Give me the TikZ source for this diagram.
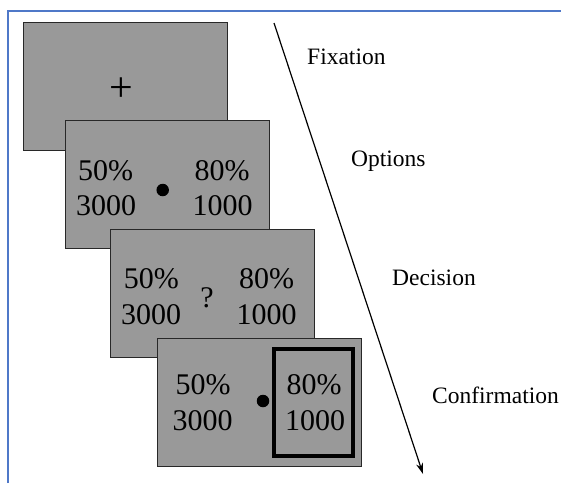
\documentclass[tikz,border=0pt]{standalone}
\usepackage{fontspec}
\setmainfont{Liberation Serif}
\usetikzlibrary{arrows.meta}
\definecolor{edgeblue}{RGB}{79,120,200}
\definecolor{screengray}{RGB}{153,153,153}
\definecolor{screenedge}{RGB}{40,40,40}
\tikzset{
  screen/.style={draw=screenedge, fill=screengray, line width=1.3pt, minimum width=204pt, minimum height=128pt, anchor=north west, inner sep=0pt},
  num/.style={font=\fontsize{30}{36}\selectfont, anchor=base, inner sep=0pt},
  stagelabel/.style={font=\fontsize{23.5}{28}\selectfont, anchor=base west, inner sep=0pt},
  fixdot/.style={circle, fill=black, minimum size=12.5pt, inner sep=0pt},
  choicebox/.style={draw=black, line width=4pt, minimum width=79pt, minimum height=107pt, inner sep=0pt}
}
\begin{document}
\begin{tikzpicture}[x=1pt,y=-1pt]
\useasboundingbox (0,0) rectangle (561,483);
% frame border
\draw[edgeblue, line width=2pt] (8,483) -- (8,11) -- (561,11);
% screens
\node[screen] (f1) at (23,22) {};
\node[font=\fontsize{42}{46}\selectfont, inner sep=0pt] (plus) at (121,90) {+};
\node[screen] (f2) at (65,120) {};
\node[num] (f2a) at (105.5,180) {50\%};
\node[num] (f2b) at (106,215) {3000};
\node[num] (f2c) at (222,180) {80\%};
\node[num] (f2d) at (222.5,215) {1000};
\node[fixdot] (dot2) at (162.7,190) {};
\node[screen] (f3) at (110,229) {};
\node[num] (f3a) at (151.3,288) {50\%};
\node[num] (f3b) at (151,324) {3000};
\node[num] (f3c) at (266.7,288) {80\%};
\node[num] (f3d) at (266.7,324) {1000};
\node[num] (q3) at (207,307) {?};
\node[screen] (f4) at (157,338) {};
\node[choicebox] (hl) at (313.5,402.5) {};
\node[num] (f4a) at (203,394) {50\%};
\node[num] (f4b) at (202.7,430) {3000};
\node[num] (f4c) at (314,394) {80\%};
\node[num] (f4d) at (315,430) {1000};
\node[fixdot] (dot4) at (263,401) {};
% time arrow
\coordinate (tstart) at (274,23);
\coordinate (tend) at (423,474);
\draw[line width=1.2pt, -{Stealth[length=11pt,width=7pt]}] (tstart) -- (tend);
% stage labels
\node[stagelabel] (l1) at (307,64) {Fixation};
\node[stagelabel] (l2) at (351,166) {Options};
\node[stagelabel] (l3) at (392,285) {Decision};
\node[stagelabel] (l4) at (432,403) {Confirmation};
\end{tikzpicture}
\end{document}
